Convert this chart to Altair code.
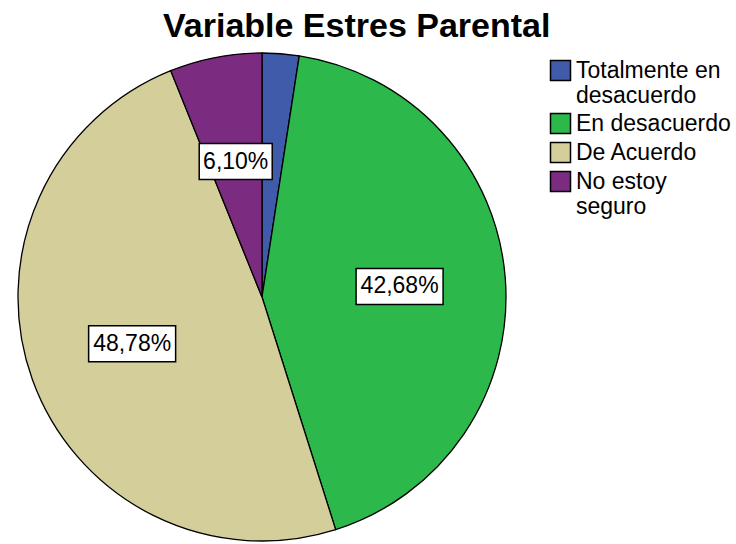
import altair as alt
import pandas as pd

categories = ["Totalmente en desacuerdo", "En desacuerdo", "De Acuerdo", "No estoy seguro"]
percents = [2.44, 42.68, 48.78, 6.10]
labels = ["", "42,68%", "48,78%", "6,10%"]
colors = ["#3F5BAA", "#2DB84B", "#D4CF9A", "#7B2C80"]

df = pd.DataFrame({"cat": categories, "pct": percents, "label": labels, "idx": list(range(len(categories)))})

CX, CY, R, LR = 262, 297, 244, 138
FONT = "Liberation Sans"

base = alt.Chart(df)

color = alt.Color(
    "cat:N",
    scale=alt.Scale(domain=categories, range=colors),
    sort=categories,
    legend=alt.Legend(
        title=None,
        orient="none",
        legendX=549,
        legendY=59,
        symbolType="square",
        symbolSize=400,
        symbolStrokeColor="black",
        symbolStrokeWidth=1.5,
        symbolOpacity=1,
        labelFont=FONT,
        labelFontSize=23,
        labelColor="black",
        labelLimit=300,
        labelOffset=4,
        rowPadding=2,
        labelExpr="datum.label == 'Totalmente en desacuerdo' ? ['Totalmente en', 'desacuerdo'] : datum.label == 'No estoy seguro' ? ['No estoy', 'seguro'] : datum.label",
    ),
)

pie = base.mark_arc(outerRadius=R, stroke="black", strokeWidth=1.3, opacity=1).encode(
    theta=alt.Theta("pct:Q", stack=True),
    color=color,
    order=alt.Order("idx:Q"),
    x=alt.value(CX),
    y=alt.value(CY),
)

lab = (
    base.transform_window(cum="sum(pct)", sort=[alt.SortField("idx")], frame=[None, 0])
    .transform_joinaggregate(total="sum(pct)")
    .transform_calculate(
        ang="2*PI*(datum.cum - datum.pct/2)/datum.total",
        px=f"{CX} + {LR}*sin(datum.ang)",
        py=f"{CY} - {LR}*cos(datum.ang)",
        bw="14*length(datum.label)+3",
    )
    .transform_calculate(
        x1="datum.px - datum.bw/2",
        x2="datum.px + datum.bw/2",
        y1="datum.py - 18",
        y2="datum.py + 18",
    )
    .transform_filter("datum.label != ''")
)

boxes = lab.mark_rect(fill="white", stroke="black", strokeWidth=1.5).encode(
    x=alt.X("x1:Q", scale=None, axis=None),
    x2="x2:Q",
    y=alt.Y("y1:Q", scale=None, axis=None),
    y2="y2:Q",
)

texts = lab.mark_text(font=FONT, fontSize=23, color="black", baseline="middle", align="center").encode(
    x=alt.X("px:Q", scale=None, axis=None),
    y=alt.Y("py:Q", scale=None, axis=None),
    text="label:N",
)

chart = (
    alt.layer(pie, boxes, texts)
    .properties(
        width=736,
        height=544,
        padding=0,
        autosize=alt.AutoSizeParams(type="none"),
        title=alt.TitleParams(
            "Variable Estres Parental",
            font=FONT,
            fontSize=34,
            fontWeight="bold",
            color="black",
            anchor="start",
            dx=163,
            dy=44,
            offset=0,
        ),
    )
    .configure_view(stroke=None)
)

chart.save("out.html", embed_options={"renderer": "svg", "actions": False})
